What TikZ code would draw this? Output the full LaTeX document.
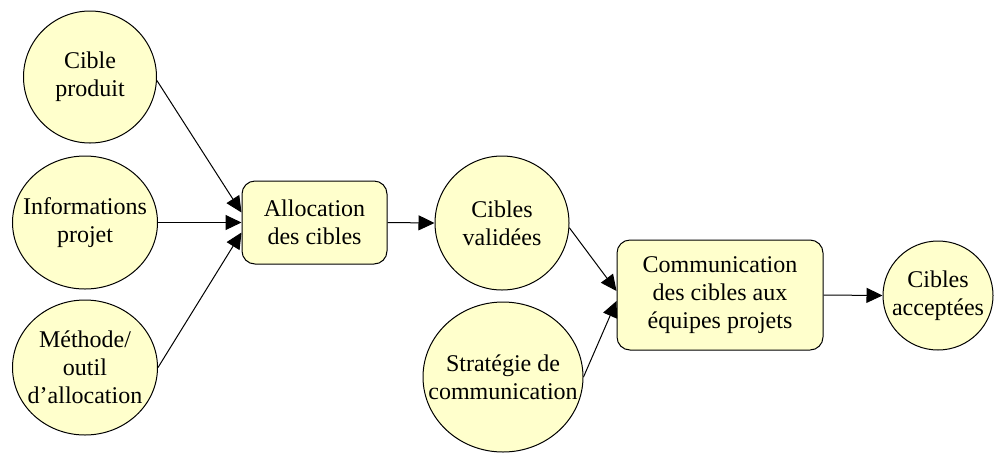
\documentclass[tikz,border=0pt]{standalone}
\usepackage{fontspec}
\setmainfont{Liberation Serif}
\usetikzlibrary{shapes.geometric,arrows.meta}
\definecolor{paleyellow}{RGB}{255,255,204}
\begin{document}
\begin{tikzpicture}[x=1pt,y=-1pt,
  every node/.style={inner sep=0pt},
  txt/.style={align=center,font=\fontsize{24}{28}\selectfont},
  bubble/.style={ellipse,draw=black,line width=1pt,fill=paleyellow},
  task/.style={rectangle,rounded corners=13pt,draw=black,line width=1pt,fill=paleyellow},
  flow/.style={line width=1pt,-{Triangle[length=16pt,width=15pt]}}]
\useasboundingbox (0,0) rectangle (995,456);
% inputs
\node[bubble,minimum width=133pt,minimum height=132pt] (cp) at (90,77) {};
\node[txt] (cpt) at (cp.center) {Cible\\produit};
\node[bubble,minimum width=145pt,minimum height=133pt] (ip) at (85,222.5) {};
\node[txt] (ipt) at (ip.center) {Informations\\projet};
\node[bubble,minimum width=145pt,minimum height=135pt] (mo) at (85,367.5) {};
\node[txt] (mot) at (mo.center) {Méthode/\\outil\\d’allocation};
% allocation step
\node[task,minimum width=145pt,minimum height=83pt] (al) at (314.5,222.5) {};
\node[txt] (alt) at (al.center) {Allocation\\des cibles};
\node[bubble,minimum width=134pt,minimum height=134pt] (cv) at (502,223) {};
\node[txt] (cvt) at (cv.center) {Cibles\\validées};
\node[bubble,minimum width=160pt,minimum height=150pt] (sc) at (503,377) {};
\node[txt] (sct) at (sc.center) {Stratégie de\\communication};
% communication step
\node[task,minimum width=206pt,minimum height=110pt] (cm) at (720,295) {};
\node[txt] (cmt) at (cm.center) {Communication\\des cibles aux\\équipes projets};
\node[bubble,minimum width=110pt,minimum height=109pt] (ca) at (938,295.5) {};
\node[txt] (cat) at (ca.center) {Cibles\\acceptées};
% connectors
\draw[flow] (cp.-3) -- ([yshift=10pt]al.west);
\draw[flow] (ip.east) -- (al.west);
\draw[flow] (mo.east) -- ([yshift=-10pt]al.west);
\draw[flow] (al.east) -- (cv.west);
\draw[flow] (cv.-4) -- ([yshift=4pt]cm.west);
\draw[flow] (sc.east) -- ([yshift=-6pt]cm.west);
\draw[flow] (cm.east) -- (ca.west);
\end{tikzpicture}
\end{document}
